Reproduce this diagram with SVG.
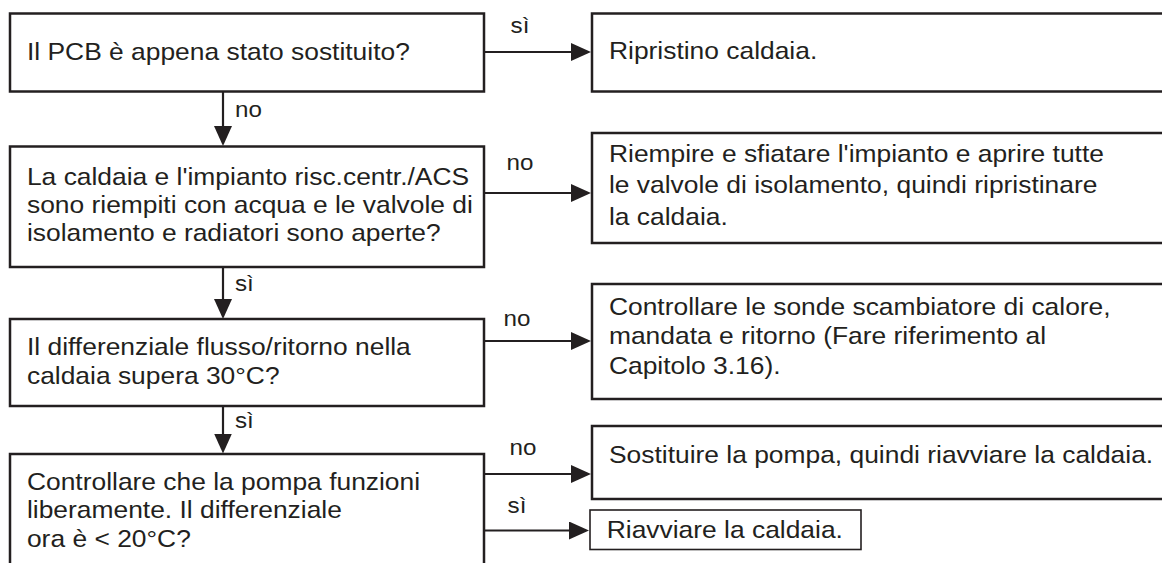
<svg xmlns="http://www.w3.org/2000/svg" width="1162" height="563" viewBox="0 0 1162 563">
<style>
.box{fill:#fff;stroke:#231f20;stroke-width:2.5}
.thin{fill:#fff;stroke:#231f20;stroke-width:1.6}
.con{fill:none;stroke:#231f20;stroke-width:2.2}
.t{font-family:"Liberation Sans",Arial,sans-serif;font-size:24px;fill:#231f20}
.l{font-family:"Liberation Sans",Arial,sans-serif;font-size:22px;fill:#231f20}
.m{text-anchor:middle}
</style>
<defs>
<marker id="ah" markerUnits="userSpaceOnUse" markerWidth="20" markerHeight="18" refX="9" refY="9" orient="auto">
<path d="M0,0 L20,9 L0,18 z" fill="#231f20"/>
</marker>
</defs>
<rect width="1162" height="563" fill="#fff"/>
<g id="connectors">
<line class="con" x1="484" y1="52" x2="580" y2="52" marker-end="url(#ah)"/>
<line class="con" x1="484" y1="193" x2="580" y2="193" marker-end="url(#ah)"/>
<line class="con" x1="484" y1="341" x2="580" y2="341" marker-end="url(#ah)"/>
<line class="con" x1="484" y1="474" x2="580" y2="474" marker-end="url(#ah)"/>
<line class="con" x1="484" y1="530.5" x2="578" y2="530.5" marker-end="url(#ah)"/>
<line class="con" x1="223" y1="91.5" x2="223" y2="135" marker-end="url(#ah)"/>
<line class="con" x1="223" y1="267" x2="223" y2="308" marker-end="url(#ah)"/>
<line class="con" x1="223" y1="406" x2="223" y2="442.5" marker-end="url(#ah)"/>
<g transform="scale(1.1 1)">
<text class="l m" x="472.7" y="33">sì</text>
<text class="l" x="213.6" y="117">no</text>
<text class="l m" x="472.7" y="170">no</text>
<text class="l" x="213.6" y="291">sì</text>
<text class="l m" x="470" y="326">no</text>
<text class="l" x="213.6" y="428">sì</text>
<text class="l m" x="475.5" y="455">no</text>
<text class="l m" x="470" y="513">sì</text>
</g>
</g>
<g id="n1">
<rect class="box" x="10" y="13.5" width="474" height="78"/>
<text class="t" transform="scale(1.1 1)" x="24.5" y="60.5">Il PCB è appena stato sostituito?</text>
</g>
<g id="n2">
<rect class="box" x="10" y="146.5" width="474" height="120.5"/>
<g transform="scale(1.1 1)">
<text class="t" x="24.5" y="185">La caldaia e l'impianto risc.centr./ACS</text>
<text class="t" x="24.5" y="213">sono riempiti con acqua e le valvole di</text>
<text class="t" x="24.5" y="241">isolamento e radiatori sono aperte?</text>
</g>
</g>
<g id="n3">
<rect class="box" x="10" y="319" width="474" height="87"/>
<g transform="scale(1.1 1)">
<text class="t" x="24.5" y="355">Il differenziale flusso/ritorno nella</text>
<text class="t" x="24.5" y="384">caldaia supera 30°C?</text>
</g>
</g>
<g id="n4">
<rect class="box" x="10" y="454" width="474" height="130"/>
<g transform="scale(1.1 1)">
<text class="t" x="24.5" y="490.5">Controllare che la pompa funzioni</text>
<text class="t" x="24.5" y="518.5">liberamente. Il differenziale</text>
<text class="t" x="24.5" y="547">ora è &lt; 20°C?</text>
</g>
</g>
<g id="r1">
<rect class="box" x="592" y="13.5" width="600" height="78"/>
<text class="t" transform="scale(1.1 1)" x="553.6" y="59">Ripristino caldaia.</text>
</g>
<g id="r2">
<rect class="box" x="592" y="133" width="600" height="110"/>
<g transform="scale(1.1 1)">
<text class="t" x="553.6" y="162.5">Riempire e sfiatare l'impianto e aprire tutte</text>
<text class="t" x="553.6" y="193.5">le valvole di isolamento, quindi ripristinare</text>
<text class="t" x="553.6" y="225">la caldaia.</text>
</g>
</g>
<g id="r3">
<rect class="box" x="592" y="284" width="600" height="115"/>
<g transform="scale(1.1 1)">
<text class="t" x="553.6" y="315">Controllare le sonde scambiatore di calore,</text>
<text class="t" x="553.6" y="344">mandata e ritorno (Fare riferimento al</text>
<text class="t" x="553.6" y="374">Capitolo 3.16).</text>
</g>
</g>
<g id="r4">
<rect class="box" x="592" y="426" width="600" height="73"/>
<text class="t" transform="scale(1.1 1)" x="553.6" y="463">Sostituire la pompa, quindi riavviare la caldaia.</text>
</g>
<g id="r5">
<rect class="thin" x="590" y="510" width="271" height="39.5"/>
<text class="t" transform="scale(1.1 1)" x="551.6" y="538.5">Riavviare la caldaia.</text>
</g>
</svg>
